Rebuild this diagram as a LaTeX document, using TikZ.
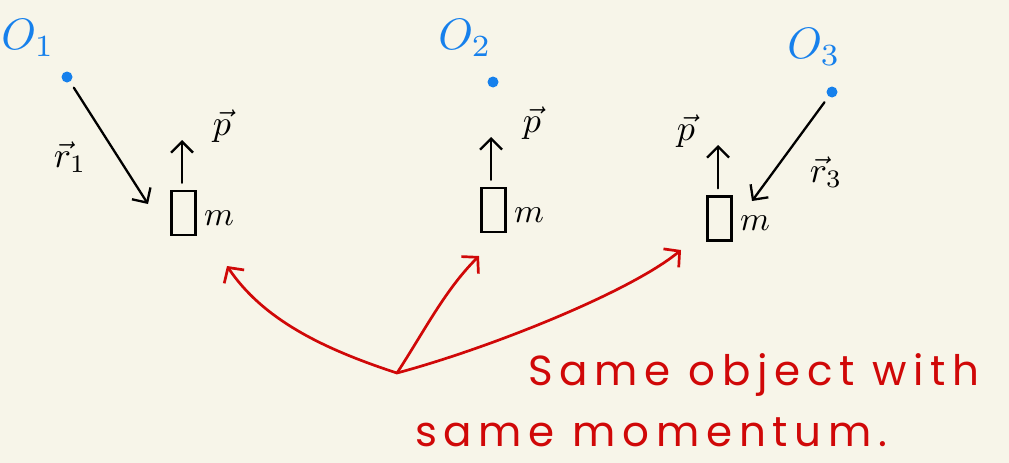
\documentclass[tikz,border=0pt]{standalone}
\usepackage{fontspec}
\setmainfont{Poppins}
\usetikzlibrary{arrows.meta}
\definecolor{paper}{RGB}{247,245,233}
\definecolor{inkblue}{RGB}{22,128,236}
\definecolor{inkred}{RGB}{208,8,8}
\newfontfamily\handfont[LetterSpace=16]{Poppins}
\newcommand{\bigmath}[2]{\scalebox{#1}{$#2$}}
\tikzset{
  ink/.style={line width=2.3pt, line cap=round, line join=round},
  vecarrow/.style={ink, black, -{Straight Barb[length=11pt,width=22pt,line width=2.3pt]}},
  redarrow/.style={ink, line width=2.7pt, inkred, -{Straight Barb[length=11pt,width=24pt,line width=2.7pt]}},
  origin/.style={circle, fill=inkblue, inner sep=0pt, minimum size=11pt},
  olabel/.style={text=inkblue, inner sep=0pt},
  massbox/.style={draw, line width=2.3pt, inner sep=0pt, minimum width=24pt, minimum height=44pt},
  mlabel/.style={inner sep=0pt},
  veclabel/.style={inner sep=0pt},
  redtext/.style={text=inkred, font=\handfont\fontsize{42}{46}\selectfont, inner sep=0pt}
}
\begin{document}
\begin{tikzpicture}[x=1pt,y=-1pt]
\fill[paper] (0,0) rectangle (1009,463);
\useasboundingbox (0,0) rectangle (1009,463);
% origins
\node[olabel] (o1) at (28,38) {\bigmath{4.4}{O_1}};
\node[olabel] (o2) at (465,38) {\bigmath{4.4}{O_2}};
\node[olabel] (o3) at (814,47) {\bigmath{4.4}{O_3}};
\node[origin] (dot1) at (67,77) {};
\node[origin] (dot2) at (493,82) {};
\node[origin] (dot3) at (832,92) {};
% masses
\node[massbox] (box1) at (183.5,213) {};
\node[massbox] (box2) at (493.5,210) {};
\node[massbox] (box3) at (719.5,218.5) {};
\node[mlabel] (m1) at (219,218) {\bigmath{3.4}{m}};
\node[mlabel] (m2) at (529,215) {\bigmath{3.4}{m}};
\node[mlabel] (m3) at (755,223) {\bigmath{3.4}{m}};
% momentum arrows
\coordinate (p1tip) at (182,140);
\coordinate (p2tip) at (491,137);
\coordinate (p3tip) at (718,145);
\draw[vecarrow, shorten <=7pt] (box1.north -| p1tip) -- (p1tip);
\draw[vecarrow, shorten <=7pt] (box2.north -| p2tip) -- (p2tip);
\draw[vecarrow, shorten <=7pt] (box3.north -| p3tip) -- (p3tip);
\node[veclabel] (p1) at (222,126) {\bigmath{3.6}{\vec p}};
\node[veclabel] (p2) at (532,123) {\bigmath{3.6}{\vec p}};
\node[veclabel] (p3) at (686,131) {\bigmath{3.6}{\vec p}};
% position vectors
\coordinate (r1end) at (148,204);
\coordinate (r3end) at (752,201);
\draw[vecarrow, shorten <=7pt] (dot1) -- (r1end);
\draw[vecarrow, shorten <=7pt] (dot3) -- (r3end);
\node[veclabel] (r1) at (70,157) {\bigmath{3.6}{\vec r_1}};
\node[veclabel] (r3) at (826,172) {\bigmath{3.6}{\vec r_3}};
% red arrows
\coordinate (hub) at (397,373);
\coordinate (tipL) at (227,266);
\coordinate (tipM) at (479,256);
\coordinate (tipR) at (681,250);
\draw[redarrow] (hub) .. controls (320,348) and (262,318) .. (tipL);
\draw[redarrow] (hub) .. controls (425,330) and (445,290) .. (tipM);
\draw[redarrow] (hub) .. controls (490,348) and (630,292) .. (tipR);
% text
\node[redtext, anchor=base west] (t1) at (528,385) {Same object with};
\node[redtext, anchor=base west] (t2) at (415,446) {same momentum.};
\end{tikzpicture}
\end{document}
